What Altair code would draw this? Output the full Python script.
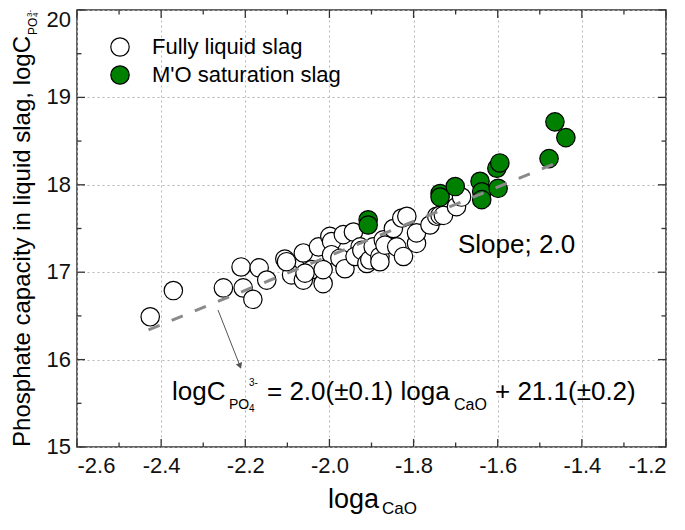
import altair as alt
import pandas as pd

# ---------------- data ----------------
liquid_x = [-2.426, -2.371, -2.252, -2.210, -2.167, -2.205, -2.182, -2.149, -2.106, -2.082,
            -2.062, -2.042, -2.090, -2.062, -2.015, -2.026, -1.999, -2.058, -1.995, -1.995,
            -2.015, -1.975, -1.963, -1.967, -1.943, -1.927, -1.939, -1.923, -1.911, -1.904,
            -1.896, -1.880, -1.880, -1.872, -1.868, -1.848, -1.840, -1.828, -1.824, -1.816,
            -1.793, -1.793, -1.761, -1.745, -1.737, -1.729, -1.698, -1.686, -2.102]
liquid_y = [16.49, 16.79, 16.82, 17.06, 17.05, 16.82, 16.69, 16.91, 17.15, 17.06,
            17.22, 17.03, 16.97, 16.91, 16.87, 17.29, 17.41, 16.99, 17.35, 17.20,
            17.03, 17.16, 17.04, 17.43, 17.46, 17.29, 17.18, 17.25, 17.10, 17.14,
            17.29, 17.18, 17.12, 17.37, 17.31, 17.50, 17.29, 17.62, 17.18, 17.64,
            17.33, 17.45, 17.54, 17.64, 17.65, 17.65, 17.75, 17.86, 17.12]

sat_x = [-1.908, -1.908, -1.737, -1.737, -1.701, -1.642, -1.638, -1.638, -1.599,
         -1.602, -1.595, -1.478, -1.464, -1.438]
sat_y = [17.60, 17.54, 17.90, 17.86, 17.98, 18.04, 17.92, 17.83, 17.96,
         18.19, 18.25, 18.30, 18.72, 18.54]

fit_x = [-2.43, -1.45]
fit_y = [16.34, 18.27]

x_major = [-2.6, -2.4, -2.2, -2.0, -1.8, -1.6, -1.4, -1.2]
x_minor = [-2.5, -2.3, -2.1, -1.9, -1.7, -1.5, -1.3]
y_major = [15, 16, 17, 18, 19, 20]
y_minor = [15.5, 16.5, 17.5, 18.5, 19.5]

legend_labels = ["Fully liquid slag", "M'O saturation slag"]
legend_fills = ["white", "#008000"]

# ---------------- layout / style ----------------
W, H = 589, 437
OX, OY = 77, 10            # page position of plot origin
FONT = "Liberation Sans"
FRAME = "#333333"
MAJ, MIN = 8, 4.5
PSIZE = 340

xs = alt.Scale(domain=[-2.6, -1.2], nice=False, zero=False)
ys = alt.Scale(domain=[15, 20], nice=False, zero=False)

x_axis = alt.Axis(
    values=x_major, title=None, ticks=False, domain=False,
    grid=True, gridDash=[2, 3], gridColor="#b5b5b5", gridWidth=1,
    labelFont=FONT, labelFontSize=22, labelColor="#111111", labelPadding=8,
    labelExpr="replace(format(datum.value, '.1f'), '\u2212', '-')",
)
y_axis = alt.Axis(
    values=y_major, title=None, ticks=False, domain=False, labels=False,
    grid=True, gridDash=[2, 3], gridColor="#b5b5b5", gridWidth=1,
)

liquid_df = pd.DataFrame({"x": liquid_x, "y": liquid_y})
sat_df = pd.DataFrame({"x": sat_x, "y": sat_y})
fit_df = pd.DataFrame({"x": fit_x, "y": fit_y})

liquid = alt.Chart(liquid_df).mark_circle(
    size=PSIZE, color="white", stroke="black", strokeWidth=1.2, opacity=1
).encode(x=alt.X("x:Q", scale=xs, axis=x_axis), y=alt.Y("y:Q", scale=ys, axis=y_axis))

sat = alt.Chart(sat_df).mark_circle(
    size=PSIZE, color="#008000", stroke="black", strokeWidth=1.2, opacity=1
).encode(x=alt.X("x:Q", scale=xs), y=alt.Y("y:Q", scale=ys))

fit = alt.Chart(fit_df).mark_line(
    color="#8a8a8a", strokeWidth=3, strokeDash=[12, 13]
).encode(x=alt.X("x:Q", scale=xs), y=alt.Y("y:Q", scale=ys))


def xticks(vals, length, top):
    d = pd.DataFrame({"x": vals})
    y0, y1 = (0, length) if top else (H, H - length)
    return alt.Chart(d).mark_rule(color=FRAME, strokeWidth=1.3).encode(
        x=alt.X("x:Q", scale=xs), y=alt.value(y0), y2=alt.value(y1))


def yticks(vals, length, right):
    d = pd.DataFrame({"y": vals})
    x0, x1 = (W, W - length) if right else (0, length)
    return alt.Chart(d).mark_rule(color=FRAME, strokeWidth=1.3).encode(
        y=alt.Y("y:Q", scale=ys), x=alt.value(x0), x2=alt.value(x1))


ticks = [xticks(x_major, MAJ, False), xticks(x_minor, MIN, False),
         xticks(x_major, MAJ, True), xticks(x_minor, MIN, True),
         yticks(y_major, MAJ, False), yticks(y_minor, MIN, False),
         yticks(y_major, MAJ, True), yticks(y_minor, MIN, True)]


def ylabels(vals, dy):
    d = pd.DataFrame({"y": vals})
    return alt.Chart(d).mark_text(
        font=FONT, fontSize=22, color="#111111", align="right", baseline="middle", dy=dy
    ).encode(y=alt.Y("y:Q", scale=ys), x=alt.value(-6), text=alt.Text("y:Q", format="d"))


ylabel_layers = [ylabels(y_major[:-1], 0), ylabels(y_major[-1:], 10)]


def label(text, px, py, size, angle=0, align="left", baseline="alphabetic"):
    kw = dict(font=FONT, fontSize=size, align=align, baseline=baseline, color="black")
    if angle:
        kw["angle"] = angle
    return alt.Chart(pd.DataFrame({"t": [text]})).mark_text(**kw).encode(
        x=alt.value(px - OX), y=alt.value(py - OY), text="t:N")


texts = [
    # legend
    label(legend_labels[0], 152, 47, 22, baseline="middle"),
    label(legend_labels[1], 152, 75, 22, baseline="middle"),
    # slope
    label("Slope; 2.0", 458, 253, 26),
    # equation
    label("logC", 172, 400, 26),
    label("PO", 229, 409, 14),
    label("3-", 249, 386, 10),
    label("4", 249, 412, 10),
    label("= 2.0(\u00b10.1) loga", 267, 400, 26),
    label("CaO", 454, 410, 16),
    label("+ 21.1(\u00b10.2)", 495, 400, 26),
    # x title
    label("loga", 328, 508, 27),
    label("CaO", 382, 514, 17),
    # y title (rotated)
    label("Phosphate capacity in liquid slag, logC", 30, 36, 24, angle=270, align="right"),
    label("PO", 37, 35, 12, angle=270),
    label("3-", 32, 17, 8, angle=270),
    label("4", 38, 17, 8, angle=270),
]

legend_syms = [
    alt.Chart(pd.DataFrame({"k": [0]})).mark_circle(
        size=PSIZE, color=legend_fills[i], stroke="black", strokeWidth=1.2, opacity=1
    ).encode(x=alt.value(120 - OX), y=alt.value(py - OY))
    for i, py in enumerate([47, 75])
]

arrow_line = alt.Chart(pd.DataFrame({"k": [0]})).mark_rule(
    color="#555555", strokeWidth=1
).encode(x=alt.value(218 - OX), y=alt.value(310 - OY),
         x2=alt.value(240 - OX), y2=alt.value(366 - OY))
arrow_head = alt.Chart(pd.DataFrame({"k": [0]})).mark_point(
    shape="triangle-up", angle=159, filled=True, color="#555555", size=45, opacity=1
).encode(x=alt.value(240 - OX), y=alt.value(366 - OY))

chart = alt.layer(
    liquid, sat, fit, *ticks, *ylabel_layers, arrow_line, arrow_head, *legend_syms, *texts
).properties(
    width=W, height=H,
    autosize=alt.AutoSizeParams(type="none"),
    padding={"left": 69, "top": 2, "right": 11, "bottom": 71},
).configure_view(stroke=FRAME, strokeWidth=1.5)

chart.save("out.html", embed_options={"renderer": "svg", "actions": False})
